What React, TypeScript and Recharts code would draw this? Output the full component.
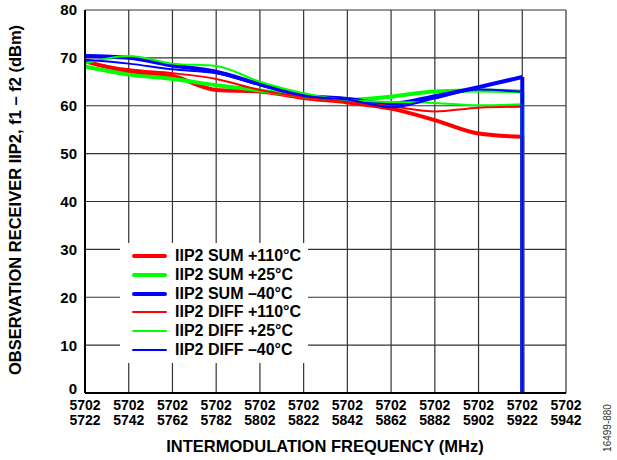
import React from 'react'
import { LineChart, Line, XAxis, YAxis, CartesianGrid } from 'recharts'

const freqs = [5722, 5742, 5762, 5782, 5802, 5822, 5842, 5862, 5882, 5902, 5922]
const xTicks = [5722, 5742, 5762, 5782, 5802, 5822, 5842, 5862, 5882, 5902, 5922, 5942]
const yTicks = [0, 10, 20, 30, 40, 50, 60, 70, 80]
const loFreq = '5702'

const sumHot = [69.3, 67.1, 66.2, 63.3, 63.0, 61.6, 60.7, 59.4, 57.0, 54.2, 53.5]
const sumRoom = [68.2, 66.5, 65.6, 64.3, 63.2, 62.0, 61.2, 61.9, 63.0, 63.2, 63.0]
const sumCold = [70.4, 70.0, 68.4, 67.1, 64.5, 62.2, 61.4, 60.4, 62.0, 63.9, 66.0]
const diffHot = [69.2, 67.6, 66.8, 65.6, 63.3, 61.8, 60.8, 59.9, 58.8, 59.6, 59.8]
const diffRoom = [68.8, 70.4, 68.8, 68.3, 65.0, 62.6, 61.2, 60.8, 60.6, 60.1, 60.3]
const diffCold = [69.6, 68.8, 67.6, 66.8, 64.3, 62.1, 61.3, 59.7, 61.5, 63.4, 62.9]

const FONT = '"Liberation Sans", Arial, Helvetica, sans-serif'

const series = [
  { name: 'IIP2 SUM +110°C', values: sumHot, color: '#ff0000', width: 4 },
  { name: 'IIP2 SUM +25°C', values: sumRoom, color: '#00ff00', width: 4 },
  { name: 'IIP2 SUM –40°C', values: sumCold, color: '#0000ff', width: 4 },
  { name: 'IIP2 DIFF +110°C', values: diffHot, color: '#ff0000', width: 2 },
  { name: 'IIP2 DIFF +25°C', values: diffRoom, color: '#00ff00', width: 2 },
  { name: 'IIP2 DIFF –40°C', values: diffCold, color: '#0000ff', width: 2 },
]

const toPoints = (vals: number[]) => freqs.map((f, i) => ({ x: f, y: vals[i] }))
// each trace falls straight to 0 after the last frequency
const dropPoints = (vals: number[]) => [
  { x: freqs[freqs.length - 1], y: vals[vals.length - 1] },
  { x: freqs[freqs.length - 1], y: 0 },
]

function FreqTick({ x, y, payload }: any) {
  return (
    <text x={x} y={y} textAnchor="middle" fontSize={14} fontWeight="bold" fill="#000" fontFamily={FONT}>
      <tspan x={x} dy="0.9em">{loFreq}</tspan>
      <tspan x={x} dy="1.1em">{payload.value}</tspan>
    </text>
  )
}

function LevelTick({ x, y, payload }: any) {
  // the zero label sits a little above the axis so it clears the frequency labels
  const lift = payload.value === 0 ? 4 : 0
  return (
    <text x={x} y={y - lift} dy="0.36em" textAnchor="end" fontSize={15} fontWeight="bold" fill="#000" fontFamily={FONT}>
      {payload.value}
    </text>
  )
}

function LegendBox() {
  return (
    <div
      style={{
        position: 'absolute', left: 120, top: 243, width: 188, padding: '4px 0',
        background: '#fff', fontFamily: FONT,
      }}
    >
      {series.map((s) => (
        <div key={s.name} style={{ display: 'flex', alignItems: 'center', height: 18.7 }}>
          <div style={{ width: 35, height: s.width, background: s.color, marginLeft: 12, marginRight: 8, borderRadius: 2 }} />
          <span style={{ fontSize: 16, fontWeight: 'bold', color: '#000', whiteSpace: 'nowrap' }}>{s.name}</span>
        </div>
      ))}
    </div>
  )
}

export default function App() {
  return (
    <div style={{ position: 'fixed', left: 0, top: 0, width: 617, height: 460, background: '#fff' }}>
      <LineChart width={617} height={460} margin={{ top: 10, right: 51, left: 25, bottom: 27 }}>
        <CartesianGrid stroke="#333" strokeWidth={1.2} horizontalValues={yTicks} verticalValues={xTicks} />
        <XAxis
          dataKey="x"
          type="number"
          domain={[5722, 5942]}
          ticks={xTicks}
          interval={0}
          tick={<FreqTick />}
          tickLine={false}
          tickSize={0}
          tickMargin={4}
          height={40}
          axisLine={{ stroke: '#000', strokeWidth: 2 }}
          allowDataOverflow
        />
        <YAxis
          type="number"
          domain={[0, 80]}
          ticks={yTicks}
          interval={0}
          width={60}
          tickLine={false}
          tickSize={0}
          tickMargin={8}
          axisLine={{ stroke: '#000', strokeWidth: 2 }}
          tick={<LevelTick />}
        />
        <YAxis
          yAxisId="r"
          orientation="right"
          type="number"
          domain={[0, 80]}
          width={0}
          tick={false}
          tickLine={false}
          axisLine={{ stroke: '#000', strokeWidth: 2 }}
        />
        {series.map((s) => (
          <Line
            key={s.name}
            data={toPoints(s.values)}
            dataKey="y"
            type="monotone"
            stroke={s.color}
            strokeWidth={s.width}
            dot={false}
            isAnimationActive={false}
          />
        ))}
        {series.map((s) => (
          <Line
            key={s.name + '-drop'}
            data={dropPoints(s.values)}
            dataKey="y"
            type="linear"
            stroke={s.color}
            strokeWidth={s.width}
            dot={false}
            isAnimationActive={false}
          />
        ))}
      </LineChart>
      <LegendBox />
      <div
        style={{
          position: 'absolute', left: 15, top: 200, transform: 'translate(-50%, -50%) rotate(-90deg)',
          fontFamily: FONT, fontWeight: 'bold', fontSize: 16.5, whiteSpace: 'nowrap', color: '#000',
        }}
      >
        OBSERVATION RECEIVER IIP2, f1 – f2 (dBm)
      </div>
      <div
        style={{
          position: 'absolute', left: 325, top: 446, transform: 'translate(-50%, -50%)',
          fontFamily: FONT, fontWeight: 'bold', fontSize: 16.5, whiteSpace: 'nowrap', color: '#000',
        }}
      >
        INTERMODULATION FREQUENCY (MHz)
      </div>
      <div
        style={{
          position: 'absolute', left: 607, top: 428, transform: 'translate(-50%, -50%) rotate(-90deg)',
          fontFamily: FONT, fontSize: 10, whiteSpace: 'nowrap', color: '#333',
        }}
      >
        16499-880
      </div>
    </div>
  )
}
